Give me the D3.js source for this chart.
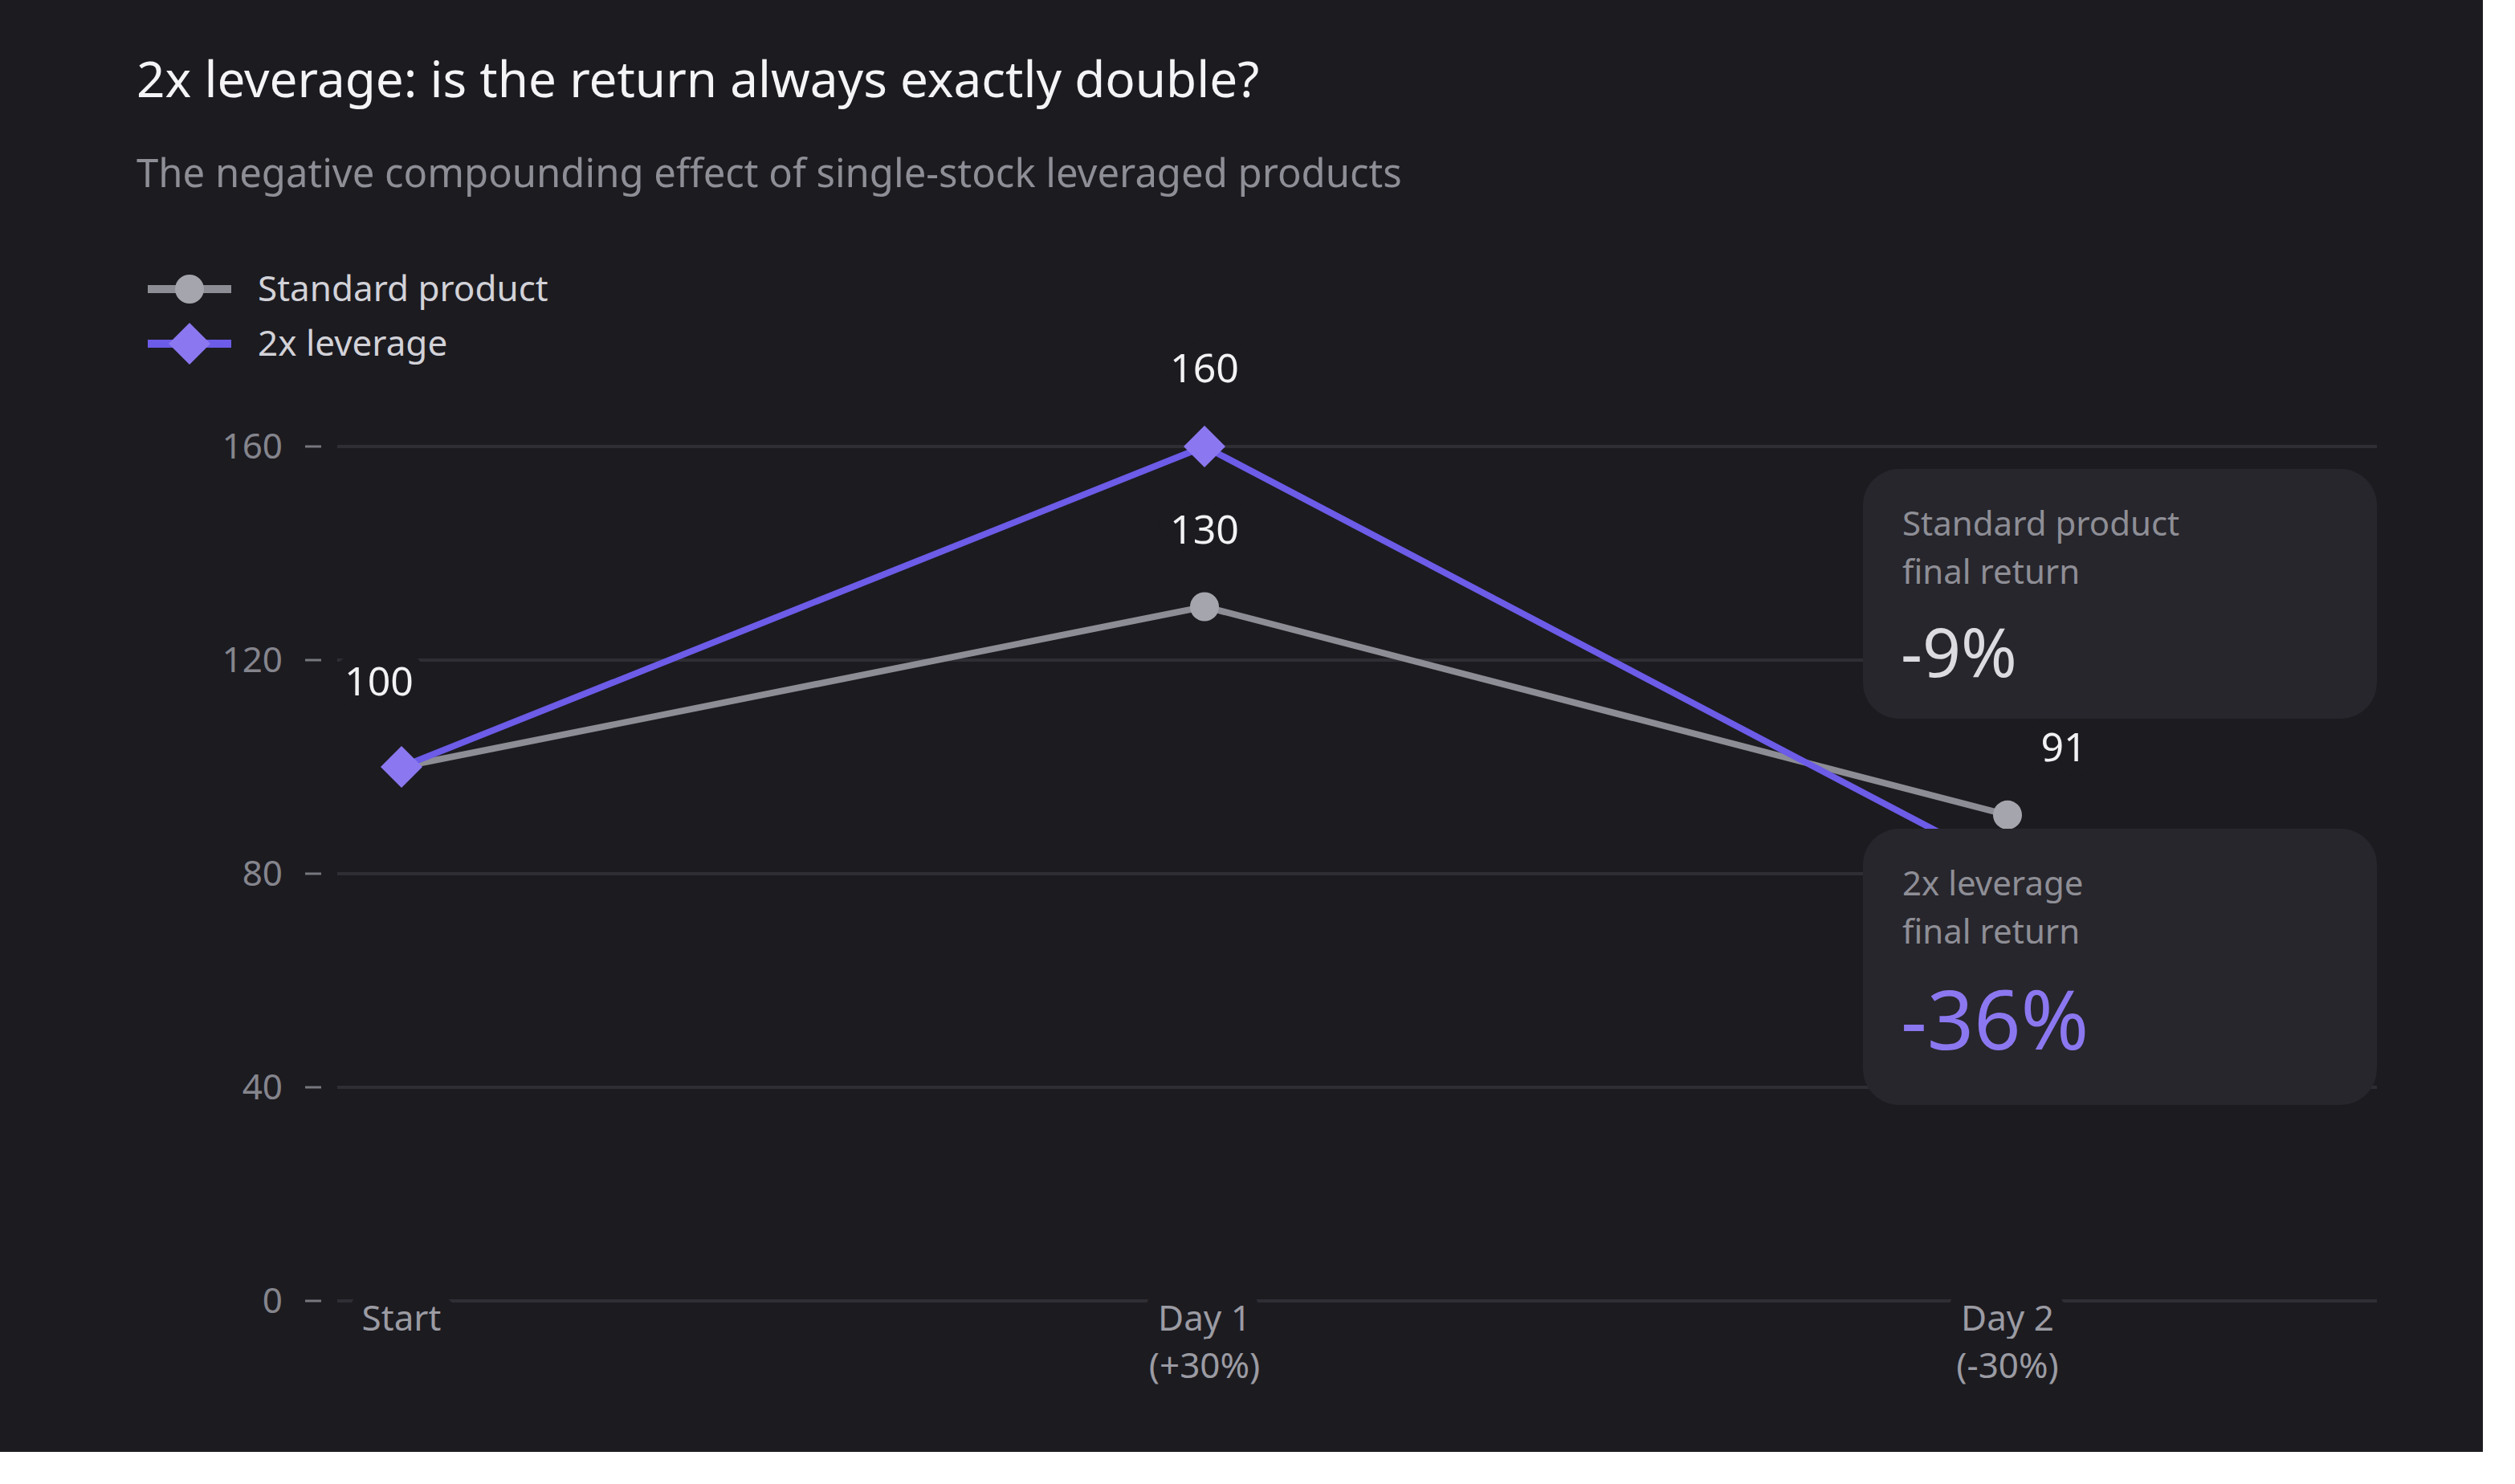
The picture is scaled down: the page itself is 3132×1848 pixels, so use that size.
<!DOCTYPE html>
<html>
<head>
<meta charset="utf-8">
<script src="https://cdn.jsdelivr.net/npm/d3@7"></script>
<style>
    html, body { margin: 0; padding: 0; background: #ffffff; }
    svg { display: block; }
    text { font-family: "Noto Sans", "Open Sans", sans-serif; }
</style>
</head>
<body>
<svg id="chart"></svg>
<script>
    // chart data
    let categories = ['Start', 'Day 1', 'Day 2'];
    let categorySubLabels = ['', '(+30%)', '(-30%)'];
    let standardValues = [100, 130, 91];
    let leverageValues = [100, 160, 81];
    let yTicks = [0, 40, 80, 120, 160];
    let seriesNames = ['Standard product', '2x leverage'];
    let cardLabels = [['Standard product', 'final return'], ['2x leverage', 'final return']];
    let cardValues = ['-9%', '-36%'];

    let width = 3092, height = 1808;
    let bg = '#1c1b20';
    let grey = '#8d8d95', greyDot = '#a5a5ad';
    let purple = '#6c5ce7', purpleDot = '#8b78f0';

    let svg = d3.select('#chart')
            .attr('width', width)
            .attr('height', height);

    svg.append('rect')
            .attr('width', width)
            .attr('height', height)
            .attr('fill', bg);

    // titles
    svg.append('text')
            .attr('x', 170).attr('y', 121)
            .attr('font-size', 62)
            .attr('fill', '#f4f4f6')
            .text('2x leverage: is the return always exactly double?');

    svg.append('text')
            .attr('x', 170).attr('y', 233)
            .attr('font-size', 49)
            .attr('fill', '#8e8e96')
            .text('The negative compounding effect of single-stock leveraged products');

    let x = d3.scalePoint().domain(categories).range([500, 2500]);
    let y = d3.scaleLinear().domain([0, 160]).range([1620, 556]);
    let gridLeft = 420, gridRight = 2960;

    // grid + y axis
    let yAxis = svg.append('g');
    yAxis.selectAll('line.grid')
            .data(yTicks)
            .enter().append('line')
            .attr('class', 'grid')
            .attr('x1', gridLeft).attr('x2', gridRight)
            .attr('y1', d => y(d)).attr('y2', d => y(d))
            .attr('stroke', '#2f2e35')
            .attr('stroke-width', 4);
    yAxis.selectAll('line.tick')
            .data(yTicks)
            .enter().append('line')
            .attr('class', 'tick')
            .attr('x1', 380).attr('x2', 400)
            .attr('y1', d => y(d)).attr('y2', d => y(d))
            .attr('stroke', '#77777f')
            .attr('stroke-width', 3);
    yAxis.selectAll('text')
            .data(yTicks)
            .enter().append('text')
            .attr('x', 352)
            .attr('y', d => y(d) + 15)
            .attr('text-anchor', 'end')
            .attr('font-size', 44)
            .attr('fill', '#85858d')
            .text(d => d);

    // x axis labels, with a halo so the base line is cut around them
    let xAxis = svg.append('g');
    categories.forEach(function (cat, i) {
        let t = xAxis.append('text')
                .attr('text-anchor', 'middle')
                .attr('font-size', 44)
                .attr('fill', '#9b9ba3')
                .attr('stroke', bg)
                .attr('stroke-width', 36)
                .attr('stroke-linejoin', 'round')
                .attr('paint-order', 'stroke');
        t.append('tspan').attr('x', x(cat)).attr('y', 1657).text(cat);
        if (categorySubLabels[i]) {
            t.append('tspan').attr('x', x(cat)).attr('y', 1716).text(categorySubLabels[i]);
        }
    });

    // lines
    let line = d3.line()
            .x((d, i) => x(categories[i]))
            .y(d => y(d));

    svg.append('path')
            .attr('d', line(standardValues))
            .attr('fill', 'none')
            .attr('stroke', grey)
            .attr('stroke-width', 8);

    svg.append('path')
            .attr('d', line(leverageValues))
            .attr('fill', 'none')
            .attr('stroke', purple)
            .attr('stroke-width', 8);

    let diamond = d3.symbol().type(d3.symbolSquare).size(52 * 52 / 2);

    svg.selectAll('circle.std')
            .data(standardValues)
            .enter().append('circle')
            .attr('class', 'std')
            .attr('cx', (d, i) => x(categories[i]))
            .attr('cy', d => y(d))
            .attr('r', 18)
            .attr('fill', greyDot);

    svg.selectAll('path.lev')
            .data(leverageValues)
            .enter().append('path')
            .attr('class', 'lev')
            .attr('d', diamond)
            .attr('transform', (d, i) => 'translate(' + x(categories[i]) + ',' + y(d) + ') rotate(45)')
            .attr('fill', purpleDot);

    // value labels: [series values, index, dx, dy]
    let valueLabels = [
        [leverageValues, 0, -28, -89],
        [leverageValues, 1, 0, -80],
        [standardValues, 1, 0, -79],
        [standardValues, 2, 70, -67]
    ];
    svg.append('g').selectAll('text')
            .data(valueLabels)
            .enter().append('text')
            .attr('x', d => x(categories[d[1]]) + d[2])
            .attr('y', d => y(d[0][d[1]]) + d[3])
            .attr('text-anchor', 'middle')
            .attr('font-size', 50)
            .attr('fill', '#f2f2f4')
            .attr('stroke', bg)
            .attr('stroke-width', 36)
            .attr('stroke-linejoin', 'round')
            .attr('paint-order', 'stroke')
            .text(d => d[0][d[1]]);

    // legend
    let legend = svg.append('g');
    [360, 428].forEach(function (ly, i) {
        legend.append('line')
                .attr('x1', 184).attr('x2', 288)
                .attr('y1', ly).attr('y2', ly)
                .attr('stroke', i === 0 ? grey : purple)
                .attr('stroke-width', 10);
        if (i === 0) {
            legend.append('circle')
                    .attr('cx', 236).attr('cy', ly).attr('r', 18)
                    .attr('fill', greyDot);
        } else {
            legend.append('path')
                    .attr('d', diamond)
                    .attr('transform', 'translate(236,' + ly + ') rotate(45)')
                    .attr('fill', purpleDot);
        }
        legend.append('text')
                .attr('x', 321).attr('y', ly + 15)
                .attr('font-size', 44)
                .attr('fill', '#d2d2d8')
                .text(seriesNames[i]);
    });

    // summary cards
    let cards = [
        {top: 584, h: 311, valueY: 259, size: 84, color: '#dcdce0'},
        {top: 1032, h: 344, valueY: 275, size: 102, color: purpleDot}
    ];
    cards.forEach(function (c, i) {
        let g = svg.append('g').attr('transform', 'translate(2320,' + c.top + ')');
        g.append('rect')
                .attr('width', 640)
                .attr('height', c.h)
                .attr('rx', 45)
                .attr('fill', '#27262c');
        cardLabels[i].forEach(function (s, j) {
            g.append('text')
                    .attr('x', 49).attr('y', 83 + j * 60)
                    .attr('font-size', 42)
                    .attr('fill', '#8e8e96')
                    .text(s);
        });
        g.append('text')
                .attr('x', 47).attr('y', c.valueY)
                .attr('font-size', c.size)
                .attr('fill', c.color)
                .text(cardValues[i]);
    });
</script>
</body>
</html>
